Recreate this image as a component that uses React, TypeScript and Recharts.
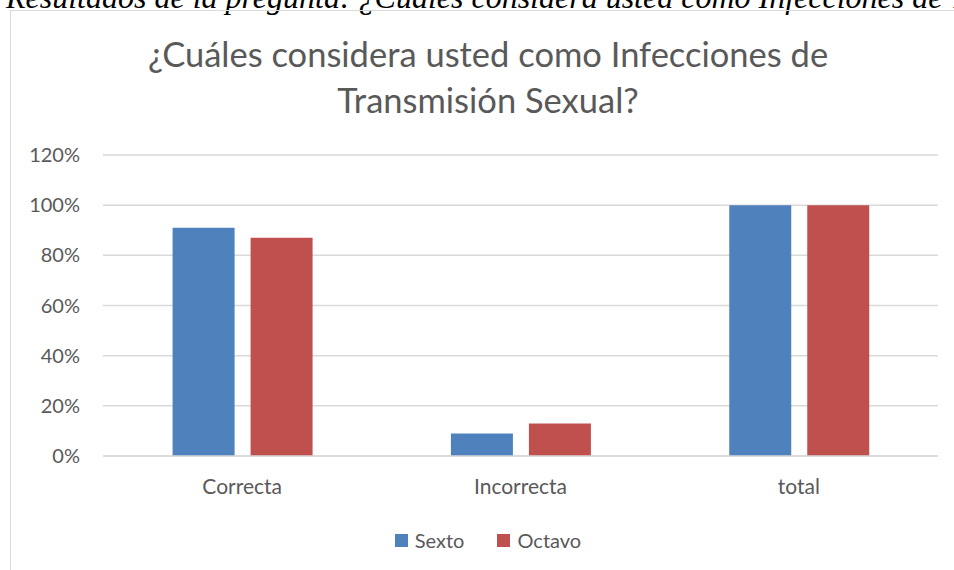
import { Bar, BarChart, CartesianGrid, Legend, XAxis, YAxis } from "recharts";

const categories = ["Correcta", "Incorrecta", "total"];
const sexto = [0.91, 0.09, 1.0];
const octavo = [0.87, 0.13, 1.0];
const yTicks = [0, 0.2, 0.4, 0.6, 0.8, 1.0, 1.2];
const seriesNames = ["Sexto", "Octavo"];
const seriesColors = ["#4F81BD", "#C0504D"];

const data = categories.map((name, i) => ({
  name,
  Sexto: sexto[i],
  Octavo: octavo[i],
}));

const FONT = "Lato, 'Open Sans', sans-serif";
const GREY = "#595959";

function LegendBox() {
  return (
    <div style={{ display: "flex", justifyContent: "center", alignItems: "center", fontFamily: FONT, fontSize: 20, color: GREY, lineHeight: "24px" }}>
      {seriesNames.map((s, i) => (
        <span key={s} style={{ display: "flex", alignItems: "center", marginRight: i === 0 ? 33 : 0 }}>
          <span style={{ display: "inline-block", width: 13, height: 13, background: seriesColors[i], marginRight: 7 }} />
          {s}
        </span>
      ))}
    </div>
  );
}

export default function App() {
  return (
    <div style={{ position: "absolute", left: 0, top: 0, width: 954, height: 570, overflow: "hidden", background: "#fff" }}>
      <div
        style={{
          position: "absolute",
          left: 6,
          top: -21,
          fontFamily: "'Liberation Serif', 'Times New Roman', serif",
          fontStyle: "italic",
          fontSize: 32,
          whiteSpace: "nowrap",
          color: "#000",
        }}
      >
        Resultados de la pregunta: ¿Cuáles considera usted como Infecciones de Transmisión Sexual?
      </div>
      {/* chart frame */}
      <div
        style={{
          position: "absolute",
          left: 10,
          top: 10,
          width: 1000,
          height: 600,
          border: "1.5px solid #d9d9d9",
        }}
      />
      <div
        style={{
          position: "absolute",
          left: 0,
          top: 31,
          width: 976,
          textAlign: "center",
          fontFamily: FONT,
          fontSize: 34.5,
          lineHeight: "46px",
          color: GREY,
        }}
      >
        ¿Cuáles considera usted como Infecciones de
        <br />
        Transmisión Sexual?
      </div>
      <div style={{ position: "absolute", left: 0, top: 0 }}>
        <BarChart
          width={954}
          height={570}
          data={data}
          margin={{ top: 155, right: 16, bottom: 18, left: 0 }}
          barCategoryGap="25%"
          barGap={16}
        >
          <CartesianGrid vertical={false} stroke="#d9d9d9" strokeWidth={1.5} />
          <XAxis
            dataKey="name"
            height={72}
            axisLine={{ stroke: "#d9d9d9", strokeWidth: 1.5 }}
            tickLine={false}
            tickSize={0}
            tickMargin={23}
            tick={{ fill: GREY, fontSize: 21, fontFamily: FONT }}
          />
          <YAxis
            width={103}
            domain={[0, 1.2]}
            ticks={yTicks}
            tickFormatter={(v: number) => `${Math.round(v * 100)}%`}
            axisLine={false}
            tickLine={false}
            tickSize={0}
            tickMargin={23}
            tick={{ fill: GREY, fontSize: 20, fontFamily: FONT }}
          />
          <Legend
            verticalAlign="bottom"
            align="center"
            wrapperStyle={{ left: 0, width: 976 }}
            content={() => <LegendBox />}
          />
          <Bar dataKey="Sexto" fill={seriesColors[0]} isAnimationActive={false} />
          <Bar dataKey="Octavo" fill={seriesColors[1]} isAnimationActive={false} />
        </BarChart>
      </div>
    </div>
  );
}
